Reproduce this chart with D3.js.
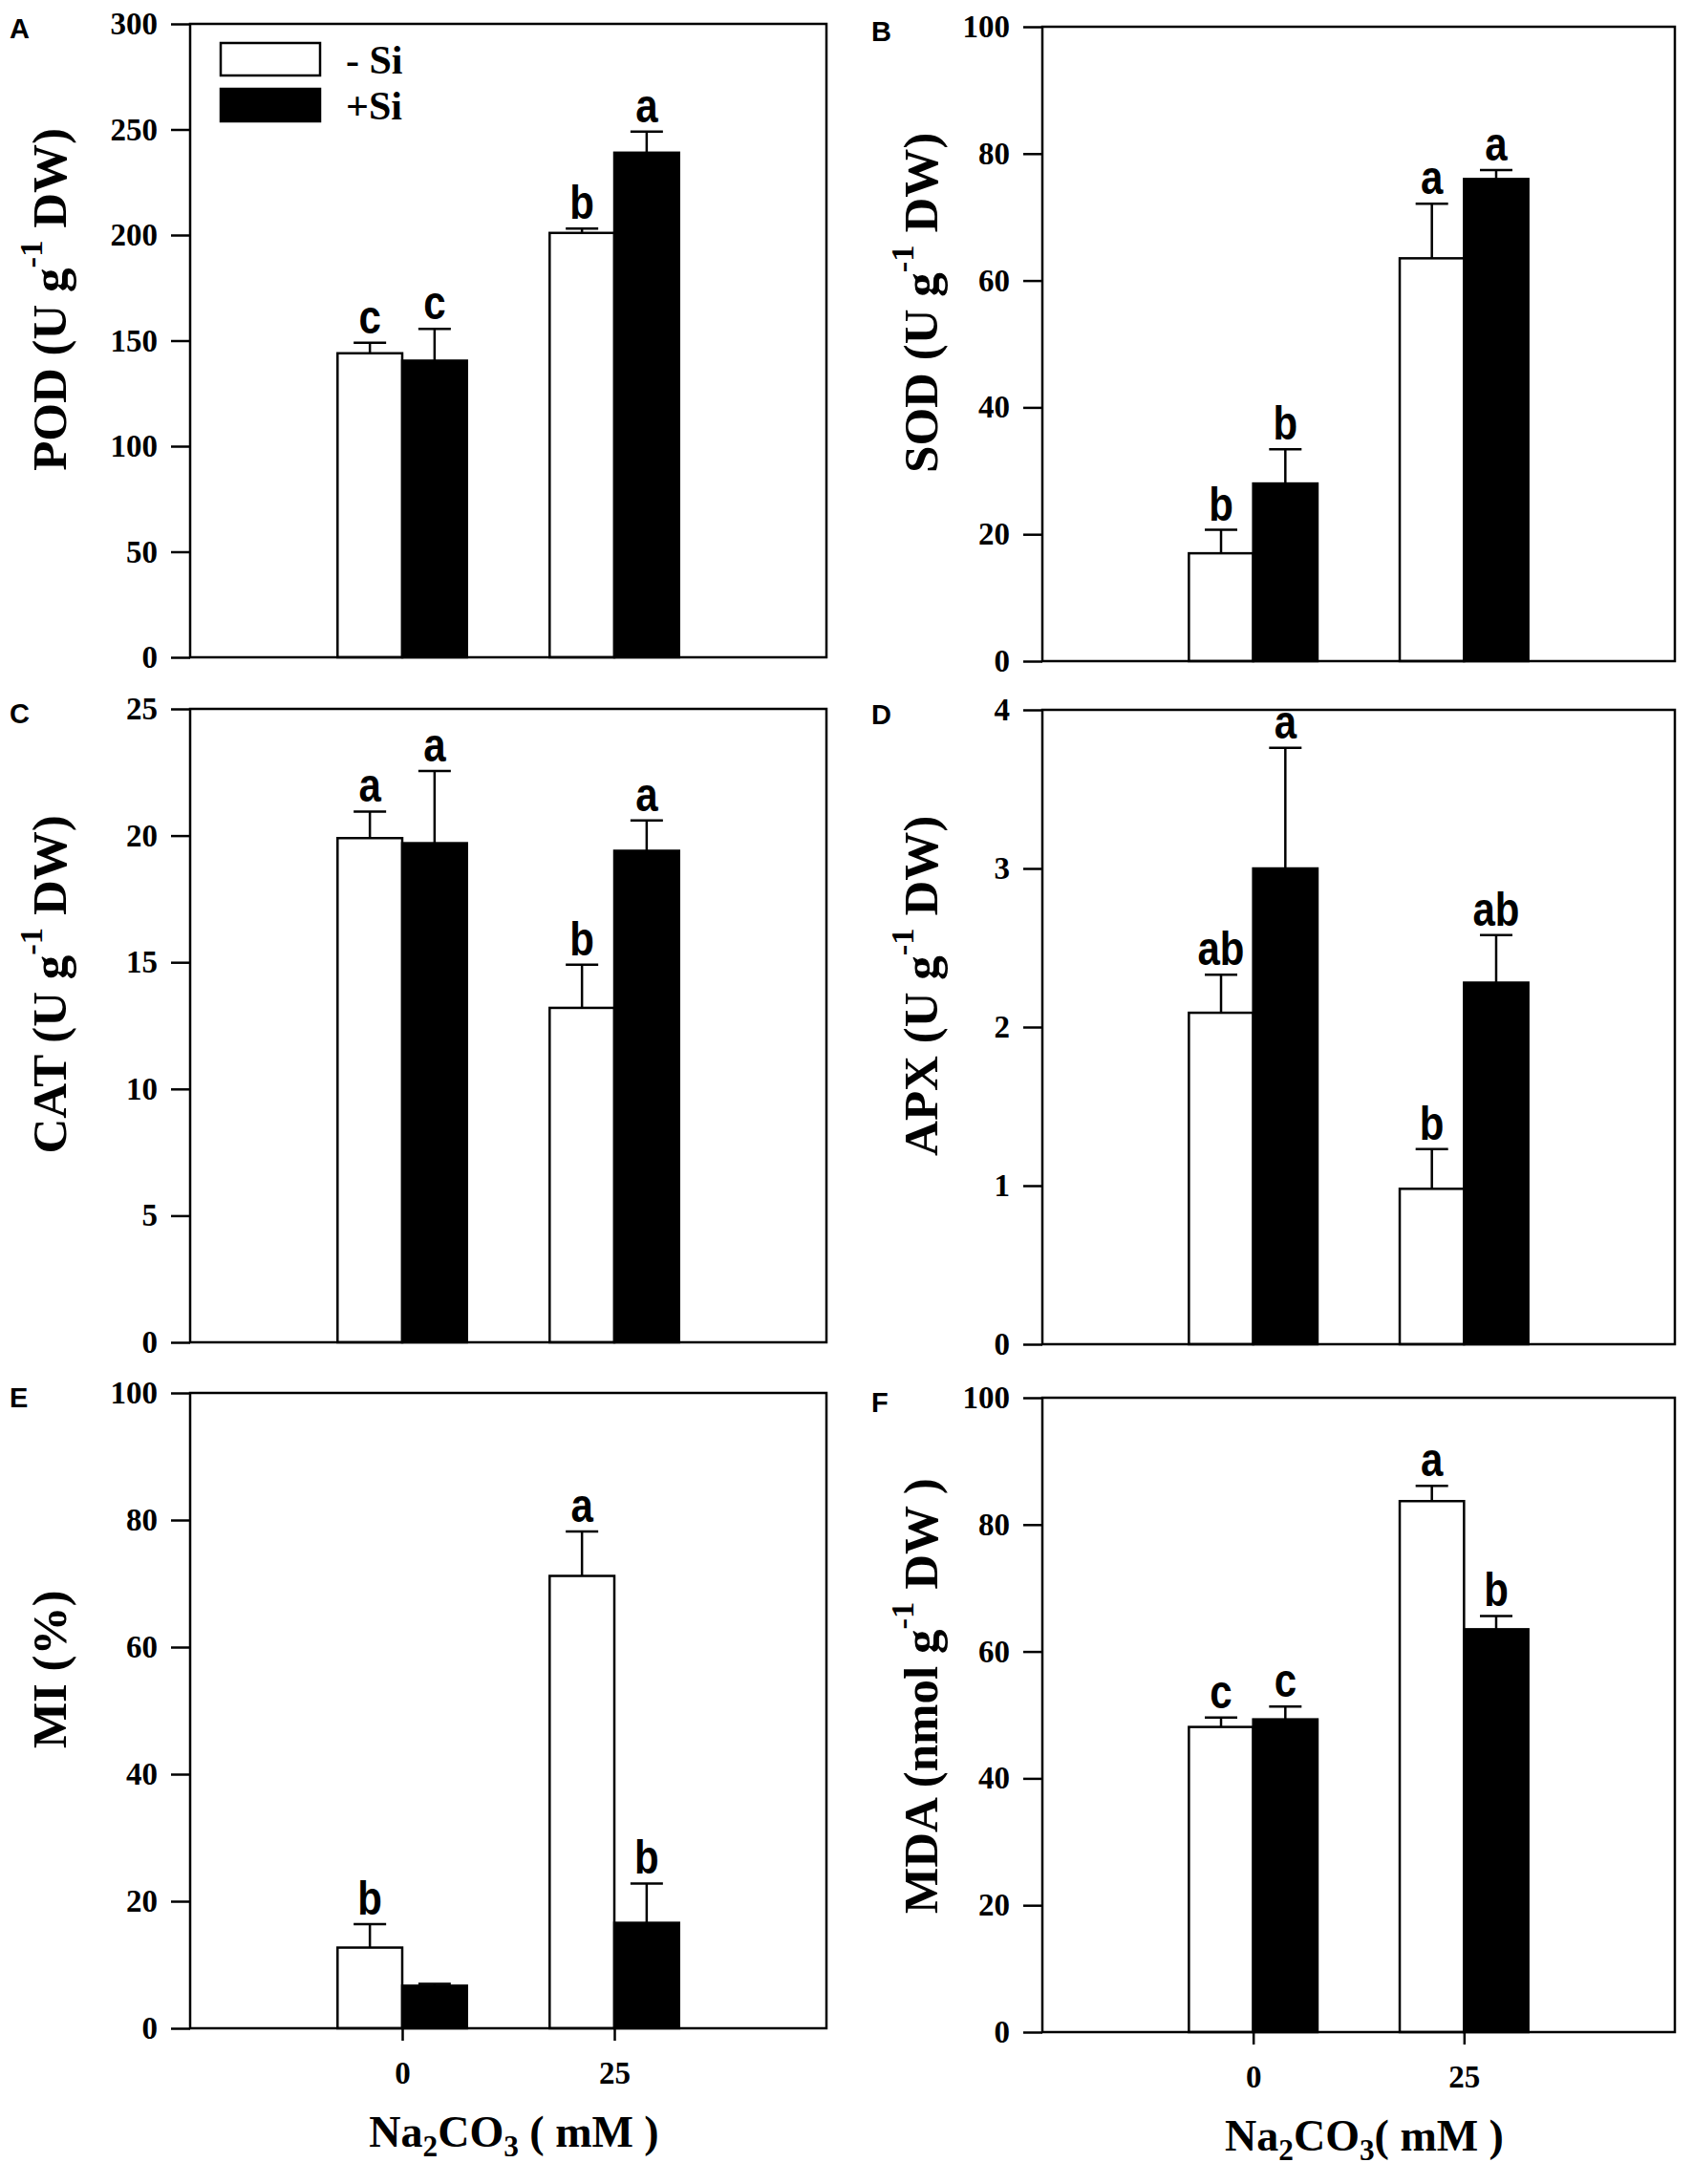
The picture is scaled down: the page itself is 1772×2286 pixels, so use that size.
<!DOCTYPE html>
<html>
<head>
<meta charset="utf-8">
<script src="https://cdn.jsdelivr.net/npm/d3@7"></script>
<style>
  body { margin: 0; background: #fff; }
  svg { display: block; }
</style>
</head>
<body>
<div id="chart"></div>
<script>
// groups on the x-axis (Na2CO3, mM) and the two treatments
const doses = ["0", "25"];
const treatments = ["- Si", "+Si"];

// values in order: [0 -Si, 0 +Si, 25 -Si, 25 +Si]
const podMean = [144, 140.5, 201, 239];
const podErr = [5, 15, 2, 10];
const podLetters = ["c", "c", "b", "a"];

const sodMean = [17, 28, 63.5, 76];
const sodErr = [3.7, 5.4, 8.6, 1.4];
const sodLetters = ["b", "b", "a", "a"];

const catMean = [19.9, 19.7, 13.2, 19.4];
const catErr = [1.05, 2.85, 1.7, 1.2];
const catLetters = ["a", "a", "b", "a"];

const apxMean = [2.09, 3.0, 0.98, 2.28];
const apxErr = [0.24, 0.76, 0.25, 0.3];
const apxLetters = ["ab", "a", "b", "ab"];

const miMean = [12.7, 6.7, 71.2, 16.6];
const miErr = [3.7, 0.3, 7.0, 6.2];
const miLetters = ["b", "", "a", "b"];

const mdaMean = [48.1, 49.3, 83.7, 63.5];
const mdaErr = [1.5, 2.0, 2.4, 2.1];
const mdaLetters = ["c", "c", "a", "b"];

const ticksPod = [0, 50, 100, 150, 200, 250, 300];
const ticks100 = [0, 20, 40, 60, 80, 100];
const ticksCat = [0, 5, 10, 15, 20, 25];
const ticksApx = [0, 1, 2, 3, 4];

const serif = "'Liberation Serif', 'Times New Roman', serif";
const sans = "'Liberation Sans', Arial, sans-serif";

const svg = d3.select("#chart").append("svg")
  .attr("width", 1772)
  .attr("height", 2286)
  .style("background", "#fff");

// title pieces: [text, kind] where kind is "sup", "sub" or normal
const unitTitle = name => [[name + " (U g", ""], ["-1", "sup"], [" DW)", ""]];

const panels = [
  { tag: "A", mean: podMean, err: podErr, letters: podLetters, ticks: ticksPod,
    title: unitTitle("POD"), x0: 199, x1: 865, y0: 25, y1: 688, legend: true },
  { tag: "B", mean: sodMean, err: sodErr, letters: sodLetters, ticks: ticks100,
    title: unitTitle("SOD"), x0: 1091, x1: 1753, y0: 28, y1: 692 },
  { tag: "C", mean: catMean, err: catErr, letters: catLetters, ticks: ticksCat,
    title: unitTitle("CAT"), x0: 199, x1: 865, y0: 742, y1: 1405 },
  { tag: "D", mean: apxMean, err: apxErr, letters: apxLetters, ticks: ticksApx,
    title: unitTitle("APX"), x0: 1091, x1: 1753, y0: 743, y1: 1407 },
  { tag: "E", mean: miMean, err: miErr, letters: miLetters, ticks: ticks100,
    title: [["MI (%)", ""]], x0: 199, x1: 865, y0: 1458, y1: 2123, xaxis: true,
    xtitle: [["Na", ""], ["2", "sub"], ["CO", ""], ["3", "sub"], [" ( mM )", ""]] },
  { tag: "F", mean: mdaMean, err: mdaErr, letters: mdaLetters, ticks: ticks100,
    title: [["MDA (nmol g", ""], ["-1", "sup"], [" DW )", ""]],
    x0: 1091, x1: 1753, y0: 1463, y1: 2127, xaxis: true, titleAt: 0.47,
    xtitle: [["Na", ""], ["2", "sub"], ["CO", ""], ["3", "sub"], ["( mM )", ""]] }
];

const barW = 0.305; // in x-units, each bar

// writes a list of [text, kind] pieces as tspans
function writePieces(text, pieces, size) {
  let shift = 0;
  pieces.forEach(([t, kind]) => {
    const target = kind === "sup" ? -size * 0.42 : kind === "sub" ? size * 0.22 : 0;
    text.append("tspan")
      .attr("dy", target - shift)
      .style("font-size", kind ? size * 0.68 + "px" : size + "px")
      .text(t);
    shift = target;
  });
}

panels.forEach(p => {
  const g = svg.append("g");
  const x = d3.scaleLinear().domain([0, 3]).range([p.x0, p.x1]);
  const yMax = p.ticks[p.ticks.length - 1];
  const y = d3.scaleLinear().domain([0, yMax]).range([p.y1, p.y0]);
  const isLeft = p.x0 < 500;

  const rows = p.mean.map((m, i) => ({
    dose: Math.floor(i / 2),
    si: i % 2,
    mean: m,
    err: p.err[i],
    letter: p.letters[i]
  }));

  // bars: white = -Si, black = +Si
  g.selectAll("rect.bar")
    .data(rows)
    .join("rect")
    .attr("class", "bar")
    .attr("x", d => x(d.dose + 1 + (d.si ? 0 : -barW)))
    .attr("width", x(barW) - x(0))
    .attr("y", d => y(d.mean))
    .attr("height", d => y(0) - y(d.mean))
    .attr("fill", d => d.si ? "#000" : "#fff")
    .attr("stroke", "#000")
    .attr("stroke-width", 2.5);

  // upper error whiskers
  const cx = d => x(d.dose + 1 + (d.si ? barW / 2 : -barW / 2));
  g.selectAll("line.err")
    .data(rows)
    .join("line")
    .attr("class", "err")
    .attr("x1", cx).attr("x2", cx)
    .attr("y1", d => y(d.mean)).attr("y2", d => y(d.mean + d.err))
    .attr("stroke", "#000").attr("stroke-width", 2.5);
  g.selectAll("line.cap")
    .data(rows)
    .join("line")
    .attr("class", "cap")
    .attr("x1", d => cx(d) - 17).attr("x2", d => cx(d) + 17)
    .attr("y1", d => y(d.mean + d.err)).attr("y2", d => y(d.mean + d.err))
    .attr("stroke", "#000").attr("stroke-width", 2.5);

  // significance letters (narrow, tall sans)
  g.selectAll("text.sig")
    .data(rows.filter(d => d.letter))
    .join("text")
    .attr("class", "sig")
    .attr("transform", d => `translate(${cx(d)},${y(d.mean + d.err) - 10}) scale(0.84,1)`)
    .attr("text-anchor", "middle")
    .style("font-family", sans)
    .style("font-weight", "bold")
    .style("font-size", "50px")
    .text(d => d.letter);

  // frame
  g.append("rect")
    .attr("x", p.x0).attr("y", p.y0)
    .attr("width", p.x1 - p.x0).attr("height", p.y1 - p.y0)
    .attr("fill", "none").attr("stroke", "#000").attr("stroke-width", 2.5);

  // y axis
  const ay = g.append("g")
    .attr("transform", `translate(${p.x0},0)`)
    .call(d3.axisLeft(y).tickValues(p.ticks).tickSize(20).tickPadding(14)
      .tickFormat(d3.format("d")));
  ay.select(".domain").remove();
  ay.selectAll(".tick line").attr("stroke-width", 2.5);
  ay.selectAll("text")
    .style("font-family", serif)
    .style("font-weight", "bold")
    .style("font-size", "33px");

  // x axis only on the bottom row
  if (p.xaxis) {
    const ax = g.append("g")
      .attr("transform", `translate(0,${p.y1})`)
      .call(d3.axisBottom(x).tickValues([1, 2]).tickSize(13).tickPadding(22)
        .tickFormat(v => doses[v - 1]));
    ax.select(".domain").remove();
    ax.selectAll(".tick line").attr("stroke-width", 2.5);
    ax.selectAll("text")
      .style("font-family", serif)
      .style("font-weight", "bold")
      .style("font-size", "33px");

    const xt = g.append("text")
      .attr("x", (p.x0 + p.x1) / 2 + 6)
      .attr("y", p.y1 + 124)
      .attr("text-anchor", "middle")
      .style("font-family", serif)
      .style("font-weight", "bold");
    writePieces(xt, p.xtitle, 46);
  }

  // y title
  const ty = p.y0 + (p.y1 - p.y0) * (p.titleAt || 0.435);
  const tx = p.x0 - (isLeft ? 142 : 122);
  const yt = g.append("text")
    .attr("transform", `translate(${tx},${ty}) rotate(-90)`)
    .attr("text-anchor", "middle")
    .attr("dominant-baseline", "middle")
    .style("font-family", serif)
    .style("font-weight", "bold");
  writePieces(yt, p.title, 51);

  // panel tag
  g.append("text")
    .attr("x", isLeft ? 10 : 912)
    .attr("y", p.y0 + 15)
    .style("font-family", sans)
    .style("font-weight", "bold")
    .style("font-size", "29px")
    .text(p.tag);

  // legend
  if (p.legend) {
    const lg = g.append("g");
    lg.selectAll("rect")
      .data(treatments)
      .join("rect")
      .attr("x", 231)
      .attr("y", (d, i) => 45 + i * 48)
      .attr("width", 104)
      .attr("height", 34)
      .attr("fill", (d, i) => i ? "#000" : "#fff")
      .attr("stroke", "#000")
      .attr("stroke-width", 2.5);
    lg.selectAll("text")
      .data(treatments)
      .join("text")
      .attr("x", 362)
      .attr("y", (d, i) => 77 + i * 48)
      .style("font-family", serif)
      .style("font-weight", "bold")
      .style("font-size", "42px")
      .text(d => d);
  }
});
</script>
</body>
</html>
